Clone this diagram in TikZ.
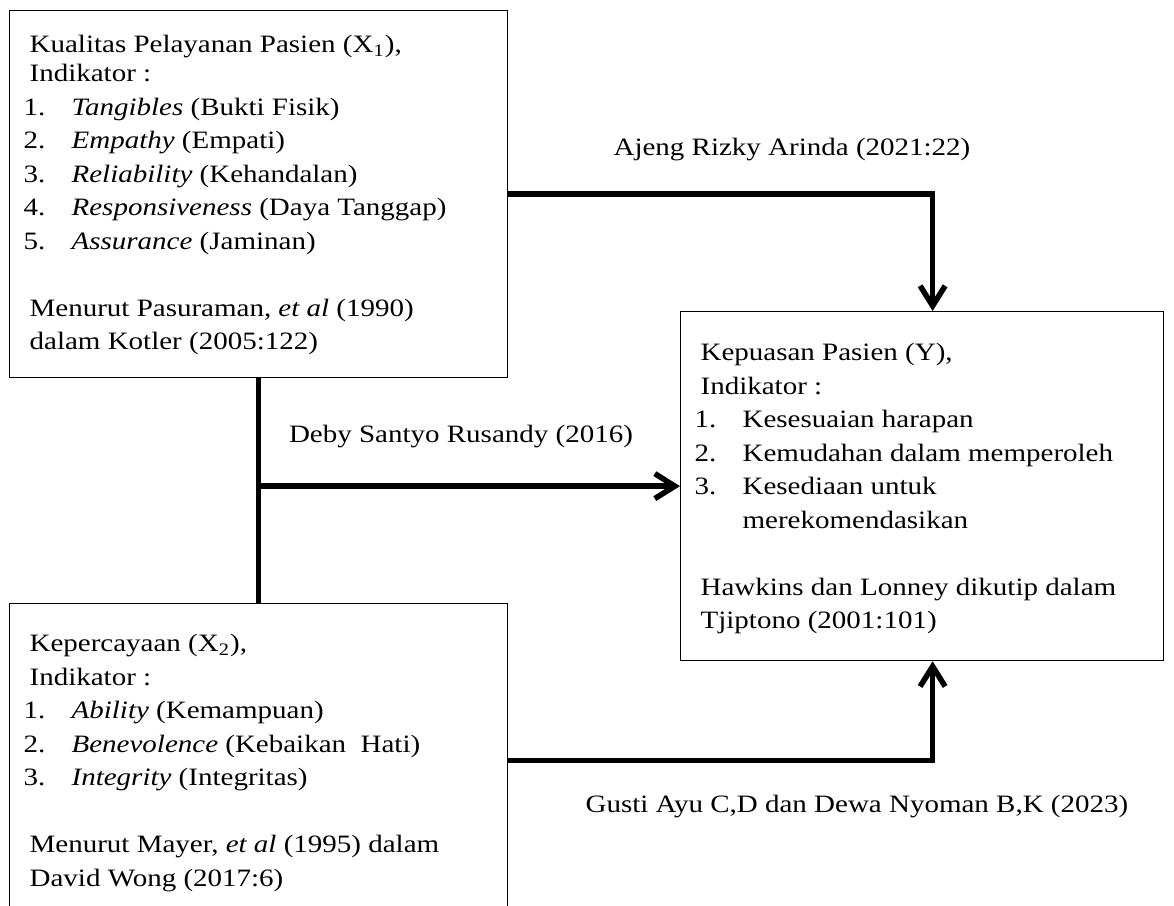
\documentclass[tikz,border=0pt]{standalone}
\usepackage{fontspec}
\setmainfont{Liberation Serif}[FakeStretch=1.16]
\usepackage{tikz}
\usetikzlibrary{positioning,arrows.meta}
\tikzset{
  varbox/.style={draw, line width=0.5pt, inner sep=0pt, anchor=north west},
  fwd/.style={-{Straight Barb[length=8pt,width=10pt]}, line width=2.2pt},
  link/.style={line width=2.2pt},
  cite/.style={anchor=base},
}
\newcommand{\boxtext}[3]{\parbox[t][#1][t]{#2}{#3}}
\newcommand{\lline}[1]{\hspace*{8pt}#1}
\newcommand{\litem}[2]{\hspace*{5.6pt}\makebox[19.2pt][l]{#1}#2}

\begin{document}
\begin{tikzpicture}[x=0.4pt, y=-0.4pt, font=\fontsize{10}{13.4}\selectfont]
  \clip (0,0) rectangle (1174,906);

  \node[varbox] (x1) at (9,10) {\boxtext{146.8pt}{199.2pt}{%
    \lline{\rule{0pt}{16.8pt}Kualitas Pelayanan Pasien (X\textsubscript{1}),}\\[-1.8pt]
    \lline{Indikator :}\\
    \litem{1.}{\textit{Tangibles} (Bukti Fisik)}\\
    \litem{2.}{\textit{Empathy} (Empati)}\\
    \litem{3.}{\textit{Reliability} (Kehandalan)}\\
    \litem{4.}{\textit{Responsiveness} (Daya Tanggap)}\\
    \litem{5.}{\textit{Assurance} (Jaminan)}\\[13.4pt]
    \lline{Menurut Pasuraman, \textit{et al} (1990)}\\
    \lline{dalam Kotler (2005:122)}}};

  \node[varbox] (y) at (680,311) {\boxtext{139.6pt}{193.2pt}{%
    \lline{\rule{0pt}{19.6pt}Kepuasan Pasien (Y),}\\
    \lline{Indikator :}\\
    \litem{1.}{Kesesuaian harapan}\\
    \litem{2.}{Kemudahan dalam memperoleh}\\
    \litem{3.}{Kesediaan untuk}\\
    \hspace*{24.8pt}merekomendasikan\\[13.4pt]
    \lline{Hawkins dan Lonney dikutip dalam}\\
    \lline{Tjiptono (2001:101)}}};

  \node[varbox] (x2) at (9,603) {\boxtext{125.6pt}{199.2pt}{%
    \lline{\rule{0pt}{19.2pt}Kepercayaan (X\textsubscript{2}),}\\
    \lline{Indikator :}\\
    \litem{1.}{\textit{Ability} (Kemampuan)}\\
    \litem{2.}{\textit{Benevolence} (Kebaikan~ Hati)}\\
    \litem{3.}{\textit{Integrity} (Integritas)}\\[13.4pt]
    \lline{Menurut Mayer, \textit{et al} (1995) dalam}\\
    \lline{David Wong (2017:6)}}};

  \node[cite] (citeA) at (792,156) {Ajeng Rizky Arinda (2021:22)};
  \node[cite] (citeB) at (461,442) {Deby Santyo Rusandy (2016)};
  \node[cite] (citeC) at (857,812) {Gusti Ayu C,D dan Dewa Nyoman B,K (2023)};

  \draw[fwd] (x1.east) -| ([xshift=4.2pt]y.north);
  \draw[link] (x1.south) -- (x2.north);
  \draw[fwd] (x1.south |- y.west) -- (y.west);
  \draw[fwd] (x2.east) -| ([xshift=4.2pt]y.south);
\end{tikzpicture}
\end{document}
